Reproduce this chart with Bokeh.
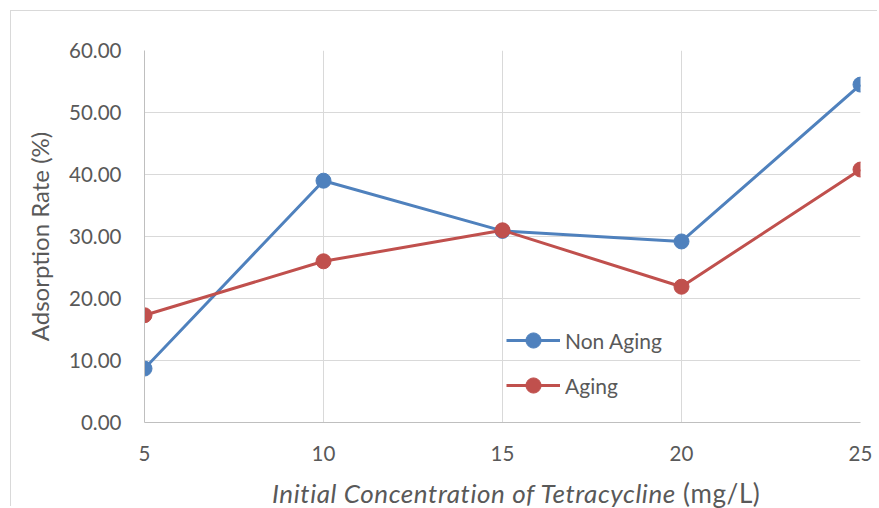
from bokeh.plotting import figure
from bokeh.layouts import column
from bokeh.models import Legend, LegendItem, Div, NumeralTickFormatter, FixedTicker, Range1d
from bokeh.embed import file_html
from bokeh.resources import INLINE

concentration = [5, 10, 15, 20, 25]
non_aging = [8.7, 39.0, 30.9, 29.2, 54.5]
aging = [17.3, 26.0, 31.0, 21.9, 40.8]
y_ticks = [0, 10, 20, 30, 40, 50, 60]
x_title_italic = "Initial Concentration of Tetracycline"
x_title_unit = "(mg/L)"

FONT = "Lato"
TXT = "#595959"
BLUE = "#4F81BD"
RED = "#C0504D"

p = figure(width=866, height=460, output_backend="svg", toolbar_location=None,
           x_range=Range1d(5, 25), y_range=Range1d(0, 60),
           min_border_left=133, min_border_right=17, min_border_top=39, min_border_bottom=49)
p.outline_line_color = None

p.xaxis.ticker = FixedTicker(ticks=concentration)
p.yaxis.ticker = FixedTicker(ticks=y_ticks)
p.yaxis.formatter = NumeralTickFormatter(format="0.00")
for ax in (p.xaxis, p.yaxis):
    ax.major_tick_line_color = None
    ax.minor_tick_line_color = None
    ax.axis_line_color = "#bfbfbf"
    ax.axis_line_width = 1
    ax.major_label_text_font = FONT
    ax.major_label_text_font_size = "20.5px"
    ax.major_label_text_color = TXT
p.yaxis.major_label_standoff = 17
p.xaxis.major_label_standoff = 17

p.yaxis.axis_label = "Adsorption Rate (%)"
p.yaxis.axis_label_text_font = FONT
p.yaxis.axis_label_text_font_style = "normal"
p.yaxis.axis_label_text_font_size = "24px"
p.yaxis.axis_label_text_color = TXT
p.yaxis.axis_label_standoff = 12

p.xgrid.grid_line_color = "#d9d9d9"
p.ygrid.grid_line_color = "#d9d9d9"
p.xgrid.ticker = FixedTicker(ticks=concentration[1:])

r1 = p.line(concentration, non_aging, line_color=BLUE, line_width=3)
s1 = p.scatter(concentration, non_aging, size=15, fill_color=BLUE, line_color=BLUE)
r2 = p.line(concentration, aging, line_color=RED, line_width=3)
s2 = p.scatter(concentration, aging, size=15, fill_color=RED, line_color=RED)

legend = Legend(items=[LegendItem(label="Non Aging", renderers=[r1, s1]),
                       LegendItem(label="Aging", renderers=[r2, s2])],
                location=(362, 18), orientation="vertical",
                glyph_width=54, glyph_height=38, label_height=38,
                label_standoff=5, spacing=7, padding=0, margin=0,
                background_fill_alpha=0, border_line_color=None,
                label_text_font=FONT, label_text_font_size="21px", label_text_color=TXT)
p.add_layout(legend, "center")

title_div = Div(text=f"<i>{x_title_italic}</i> {x_title_unit}", width=866, height=35,
                margin=(0, 0, 0, 0),
                styles={"font-family": FONT, "font-size": "26px", "color": TXT,
                        "letter-spacing": "0.6px",
                        "padding-left": "261px", "line-height": "44px",
                        "white-space": "nowrap"})

layout = column(p, title_div, margin=(10, 0, 0, 10), spacing=0,
                styles={"border-left": "1px solid #d9d9d9", "border-top": "1px solid #d9d9d9"})

open("out.html", "w").write(file_html(layout, INLINE))
